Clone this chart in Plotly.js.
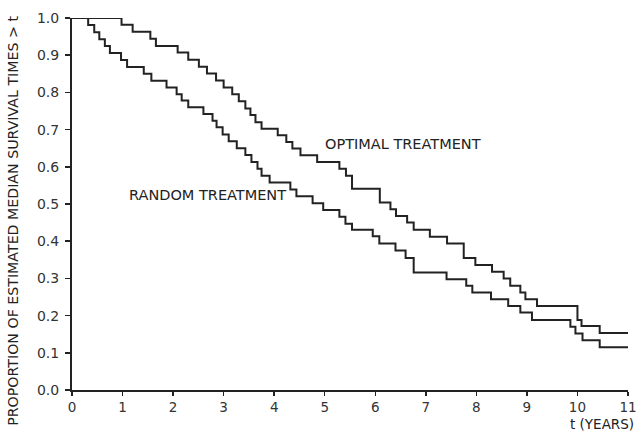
<!DOCTYPE html>
<html>
<head>
<meta charset="utf-8">
<script src="https://cdn.plot.ly/plotly-3.0.1.min.js"></script>
<style>html,body{margin:0;padding:0;background:#fff;}#chart{width:642px;height:433px;}</style>
</head>
<body>
<div id="chart"></div>
<script>
// Step times (years) and survival proportion after each step
const optimalTimes = [0, 0.98, 1.20, 1.55, 1.66, 2.09, 2.30, 2.51, 2.67, 2.85, 3.00, 3.17, 3.30, 3.43, 3.53, 3.63, 3.75, 4.07, 4.24, 4.36, 4.52, 4.85, 5.29, 5.42, 5.54, 6.09, 6.30, 6.41, 6.63, 6.76, 7.08, 7.42, 7.75, 7.98, 8.31, 8.54, 8.67, 8.87, 8.97, 9.20, 10.00, 10.08, 10.44, 11.0];
const optimalValues = [1.0, 0.982, 0.963, 0.944, 0.925, 0.907, 0.888, 0.869, 0.851, 0.832, 0.813, 0.795, 0.776, 0.757, 0.739, 0.720, 0.702, 0.685, 0.667, 0.649, 0.631, 0.613, 0.595, 0.576, 0.541, 0.504, 0.486, 0.468, 0.450, 0.431, 0.412, 0.394, 0.355, 0.336, 0.318, 0.300, 0.280, 0.262, 0.244, 0.226, 0.188, 0.172, 0.153, 0.153];

const randomTimes = [0, 0.32, 0.44, 0.54, 0.65, 0.75, 0.97, 1.09, 1.42, 1.57, 1.87, 2.07, 2.17, 2.30, 2.60, 2.78, 2.86, 2.98, 3.10, 3.26, 3.43, 3.55, 3.67, 3.75, 3.91, 4.32, 4.44, 4.76, 4.97, 5.29, 5.41, 5.54, 5.95, 6.08, 6.40, 6.60, 6.76, 7.41, 7.80, 7.92, 8.29, 8.63, 8.87, 9.10, 9.86, 9.96, 10.10, 10.44, 11.0];
const randomValues = [1.0, 0.981, 0.962, 0.943, 0.925, 0.906, 0.887, 0.868, 0.850, 0.831, 0.813, 0.795, 0.778, 0.760, 0.742, 0.724, 0.706, 0.687, 0.669, 0.650, 0.632, 0.613, 0.595, 0.576, 0.558, 0.539, 0.521, 0.502, 0.484, 0.466, 0.447, 0.431, 0.413, 0.394, 0.375, 0.355, 0.316, 0.298, 0.280, 0.262, 0.244, 0.226, 0.208, 0.188, 0.170, 0.152, 0.134, 0.115, 0.115];

const xTicks = [0,1,2,3,4,5,6,7,8,9,10,11];
const yTicks = [0,0.1,0.2,0.3,0.4,0.5,0.6,0.7,0.8,0.9,1.0];
const yTickText = ['0.0','0.1','0.2','0.3','0.4','0.5','0.6','0.7','0.8','0.9','1.0'];

const seriesNames = ['OPTIMAL TREATMENT', 'RANDOM TREATMENT'];
const yTitle = 'PROPORTION OF ESTIMATED MEDIAN SURVIVAL TIMES > t';
const xTitle = 't (YEARS)';

const lineStyle = {color: '#222', width: 2, shape: 'hv'};
const font = 'DejaVu Sans, Liberation Sans, sans-serif';

const traces = [
  {x: optimalTimes, y: optimalValues, mode: 'lines', line: lineStyle, name: seriesNames[0], hoverinfo: 'x+y'},
  {x: randomTimes, y: randomValues, mode: 'lines', line: lineStyle, name: seriesNames[1], hoverinfo: 'x+y'}
];

const layout = {
  width: 642, height: 433,
  margin: {l: 72, r: 14, t: 18, b: 43, pad: 0},
  paper_bgcolor: '#fff', plot_bgcolor: '#fff',
  showlegend: false,
  font: {family: font, color: '#222', size: 14},
  xaxis: {
    range: [0, 11], tickvals: xTicks, ticks: 'outside', ticklen: 4, tickwidth: 1.5, tickcolor: '#222',
    showline: true, linecolor: '#222', linewidth: 2, showgrid: false, zeroline: false,
    tickfont: {family: font, size: 13.5, color: '#333'}, ticklabelstandoff: 0
  },
  yaxis: {
    range: [0, 1.0], tickvals: yTicks, ticktext: yTickText, ticks: 'outside', ticklen: 5, tickwidth: 1.5, tickcolor: '#222',
    showline: true, linecolor: '#222', linewidth: 2, showgrid: false, zeroline: false,
    tickfont: {family: font, size: 14, color: '#333'}, ticklabelstandoff: 3
  },
  annotations: [
    {xref: 'x', yref: 'y', x: 4.97, y: 0.66, text: seriesNames[0], showarrow: false, xanchor: 'left', yanchor: 'middle', font: {family: font, size: 14.5, color: '#222'}},
    {xref: 'x', yref: 'y', x: 1.09, y: 0.525, text: seriesNames[1], showarrow: false, xanchor: 'left', yanchor: 'middle', font: {family: font, size: 14.5, color: '#222'}},
    {xref: 'paper', yref: 'paper', x: -0.106, y: 0.455, text: yTitle, showarrow: false, textangle: -90, xanchor: 'center', yanchor: 'middle', font: {family: font, size: 14.2, color: '#222'}},
    {xref: 'paper', yref: 'paper', x: 1.012, y: -0.1164, text: xTitle, showarrow: false, xanchor: 'right', yanchor: 'bottom', borderpad: 0, font: {family: font, size: 13.5, color: '#222'}}
  ]
};

Plotly.newPlot('chart', traces, layout, {staticPlot: true, displayModeBar: false});
</script>
</body>
</html>
